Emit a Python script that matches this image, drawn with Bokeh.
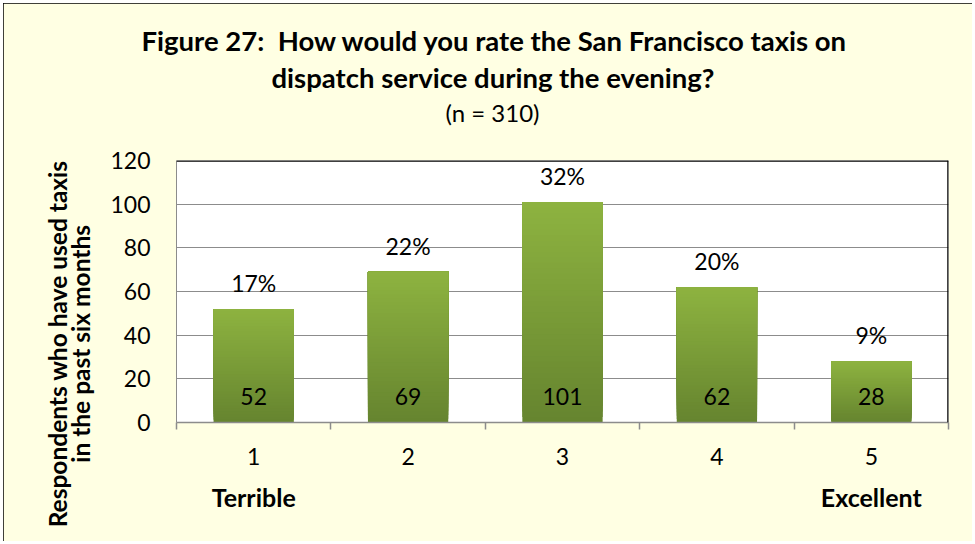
from bokeh.plotting import figure
from bokeh.models import (ColumnDataSource, Range1d, FixedTicker, Span, LabelSet,
                          LinearAxis, Title)
from bokeh.core.properties import value
from bokeh.embed import file_html
from bokeh.resources import INLINE

# ---- data ----
ratings = [1, 2, 3, 4, 5]
rating_labels = ["1", "2", "3", "4", "5"]
end_labels = {1: "Terrible", 5: "Excellent"}
counts = [52, 69, 101, 62, 28]
pct_labels = ["17%", "22%", "32%", "20%", "9%"]
y_ticks = [0, 20, 40, 60, 80, 100, 120]
y_title_lines = ["in the past six months", "Respondents who have used taxis"]
title_lines = ["Figure 27:\u00a0 How would you rate the San Francisco taxis on",
               "dispatch service during the evening?"]
subtitle = "(n = 310)"

W, H = 969, 538
BG = "#FFFFE3"
FONT = "Lato"
YLAB_POS = 36  # vertical anchor (in y units) for the rotated axis title

p = figure(width=W, height=H, output_backend="svg", toolbar_location=None,
           x_range=Range1d(0.5, 5.5), y_range=Range1d(0, 120),
           min_border_left=173, min_border_right=24, min_border_top=157,
           min_border_bottom=119)
p.background_fill_color = "white"
p.border_fill_color = BG
p.outline_line_color = None
p.styles = {"margin": "3px", "outline": "2px solid black", "outline-offset": "-2px"}

# gradient bars: overlapping slices, each from a fraction of the bar up to its top
top_c = (0x8D, 0xB3, 0x40)
bot_c = (0x66, 0x84, 0x2F)
N = 40
xs, bots, tops, cols = [], [], [], []
for i in range(N):
    t = (i + 0.5) / N
    col = "#%02x%02x%02x" % tuple(int(round(b + (a - b) * t)) for a, b in zip(top_c, bot_c))
    for r, c in zip(ratings, counts):
        xs.append(r)
        bots.append(c * i / N)
        tops.append(c)
        cols.append(col)
p.vbar(x=xs, bottom=bots, top=tops, width=0.52, fill_color=cols, line_color=None)

# grid & axes
p.xgrid.grid_line_color = None
p.ygrid.ticker = FixedTicker(ticks=y_ticks)
p.ygrid.grid_line_color = "#8C8C8C"
p.ygrid.grid_line_width = 1

p.yaxis.ticker = FixedTicker(ticks=y_ticks)
p.yaxis.axis_line_color = "#8C8C8C"
p.yaxis.major_tick_line_color = None
p.yaxis.minor_tick_line_color = None
p.yaxis.major_label_standoff = 20
p.yaxis.major_label_text_font = FONT
p.yaxis.major_label_text_font_size = "23px"
p.yaxis.major_label_text_color = "black"

p.xaxis.ticker = FixedTicker(ticks=ratings, minor_ticks=[0.5, 1.5, 2.5, 3.5, 4.5, 5.5])
p.xaxis.major_label_overrides = {r: l for r, l in zip(ratings, rating_labels)}
p.xaxis.axis_line_color = "#8C8C8C"
p.xaxis.axis_line_width = 1.5
p.xaxis.major_tick_line_color = None
p.xaxis.major_tick_out = 7
p.xaxis.minor_tick_line_color = "#8C8C8C"
p.xaxis.minor_tick_line_width = 1.5
p.xaxis.minor_tick_out = 7
p.xaxis.minor_tick_in = 0
p.xaxis.major_label_standoff = 18
p.xaxis.major_label_text_font = FONT
p.xaxis.major_label_text_font_size = "23px"
p.xaxis.major_label_text_color = "black"

# second bottom axis: end-point descriptions
ax_end = LinearAxis(ticker=FixedTicker(ticks=list(end_labels.keys())),
                    major_label_overrides=end_labels,
                    axis_line_color=None, major_tick_line_color=None,
                    minor_tick_line_color=None, major_tick_out=0, major_tick_in=0,
                    major_label_standoff=14, major_label_text_font=FONT,
                    major_label_text_font_size="25px", major_label_text_font_style="bold",
                    major_label_text_color="black")
p.add_layout(ax_end, "below")

# rotated y-axis title, one line per extra left axis
for line, standoff in zip(y_title_lines, [12, -9]):
    ax = LinearAxis(ticker=FixedTicker(ticks=[YLAB_POS]),
                    major_label_overrides={YLAB_POS: line},
                    major_label_orientation="parallel",
                    axis_line_color=None, major_tick_line_color=None,
                    minor_tick_line_color=None, major_tick_out=0, major_tick_in=0,
                    major_label_standoff=standoff, major_label_text_font=FONT,
                    major_label_text_font_size="24.5px", major_label_text_font_style="bold",
                    major_label_text_color="black")
    p.add_layout(ax, "left")

# black top & right border of plot area
p.add_layout(Span(location=120, dimension="width", line_color="black", line_width=2.5))
p.add_layout(Span(location=5.5, dimension="height", line_color="black", line_width=2.5))

# data labels
src = ColumnDataSource(dict(x=ratings, y=counts, pct=pct_labels,
                            cnt=[str(c) for c in counts], zero=[0] * 5))
p.add_layout(LabelSet(x="x", y="y", text="pct", source=src, y_offset=26,
                      text_align="center", text_baseline="middle",
                      text_font=value(FONT), text_font_size=value("23px"),
                      text_color="black"))
p.add_layout(LabelSet(x="x", y="zero", text="cnt", source=src, y_offset=26,
                      text_align="center", text_baseline="middle",
                      text_font=value(FONT), text_font_size=value("23px"),
                      text_color="black"))

# titles (added closest-first); a blank spacer keeps the subtitle off the plot
p.add_layout(Title(text=" ", standoff=20, text_font=FONT, text_font_size="10px"), "above")
p.add_layout(Title(text=subtitle, align="left", offset=269, standoff=0,
                   text_font=FONT, text_font_size="24px", text_font_style="normal",
                   text_color="black"), "above")
p.add_layout(Title(text=title_lines[1], align="left", offset=95, standoff=4,
                   text_font=FONT, text_font_size="27.5px", text_font_style="bold",
                   text_color="black"), "above")
p.add_layout(Title(text=title_lines[0], align="left", offset=-35, standoff=0,
                   text_font=FONT, text_font_size="27.5px", text_font_style="bold",
                   text_color="black"), "above")

open("out.html", "w").write(file_html(p, INLINE))
